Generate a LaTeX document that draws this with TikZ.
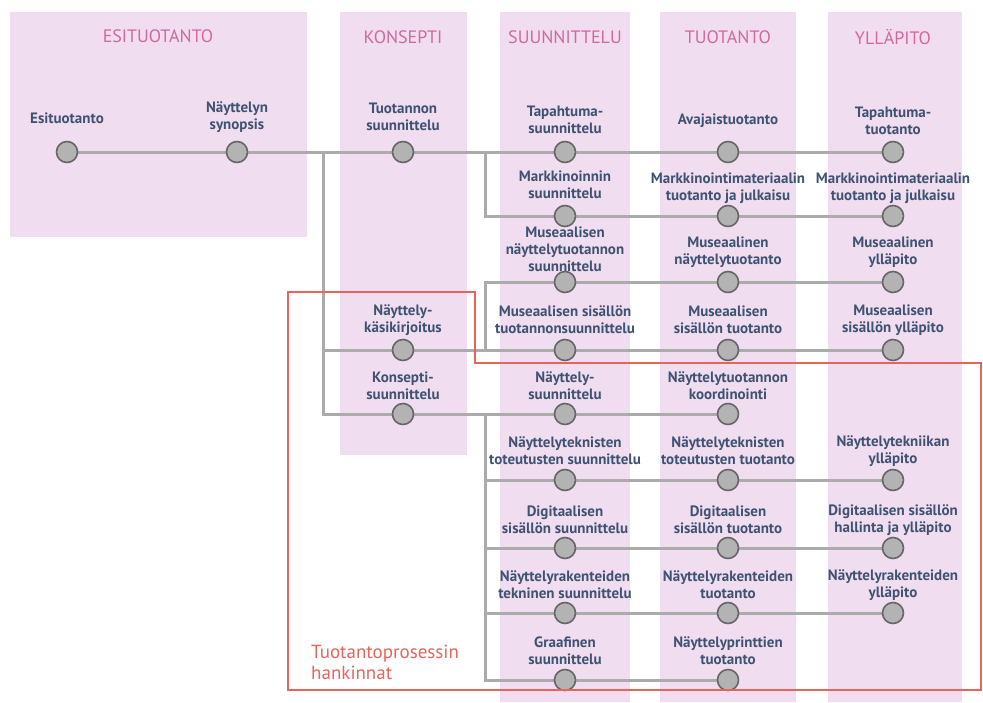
\documentclass[tikz,border=0pt]{standalone}
\usepackage{fontspec}
\setmainfont{PT Sans}
\pgfdeclarelayer{panels}
\pgfdeclarelayer{lines}
\pgfsetlayers{panels,lines,main}
\definecolor{panelc}{HTML}{F0DEF0}
\definecolor{hdrc}{HTML}{D2689F}
\definecolor{textc}{HTML}{3F5272}
\definecolor{dotfill}{HTML}{B3B3B3}
\definecolor{dotdraw}{HTML}{666666}
\definecolor{linec}{HTML}{ABABAB}
\definecolor{redc}{HTML}{E8645A}
\begin{document}
\begin{tikzpicture}[x=1pt,y=-1pt,
  dot/.style={circle,fill=dotfill,draw=dotdraw,line width=1.6pt,minimum size=21pt,inner sep=0pt},
  lbl/.style={font=\fontsize{15}{17}\selectfont\bfseries,text=textc,align=center,inner sep=0pt},
  hdr/.style={font=\fontsize{18}{20}\selectfont,text=hdrc,inner sep=0pt},
  conn/.style={draw=linec,line width=3pt,line join=miter},
  panel/.style={fill=panelc,draw=none},
  redbox/.style={draw=redc,line width=1.6pt,line join=miter},
  redlbl/.style={font=\fontsize{19}{21}\selectfont,text=redc,align=left,inner sep=0pt}]
\useasboundingbox (0,0) rectangle (983,702);
% panels
\begin{pgfonlayer}{panels}
\path[panel] (10,12) rectangle (307,237);
\path[panel] (340,12) rectangle (467,455);
\path[panel] (500,12) rectangle (630,702);
\path[panel] (660,12) rectangle (796,702);
\path[panel] (828,12) rectangle (962,702);
\end{pgfonlayer}
% headers
\node[hdr] (h1) at (158,36) {ESITUOTANTO};
\node[hdr] (h2) at (403,37) {KONSEPTI};
\node[hdr] (h3) at (565,37) {SUUNNITTELU};
\node[hdr] (h4) at (728,37) {TUOTANTO};
\node[hdr] (h5) at (893,37) {YLLÄPITO};
% row 1
\node[dot] (esi) at (67,152) {};
\node[lbl] (esi-l) at (67,118) {Esituotanto};
\node[dot] (syn) at (237,152) {};
\node[lbl] (syn-l) at (237,117) {Näyttelyn\\synopsis};
\node[dot] (tsu) at (403,152) {};
\node[lbl] (tsu-l) at (403,117) {Tuotannon\\suunnittelu};
\node[dot] (tap) at (565,152) {};
\node[lbl] (tap-l) at (565,120) {Tapahtuma-\\suunnittelu};
\node[dot] (ava) at (728,152) {};
\node[lbl] (ava-l) at (728,121) {Avajaistuotanto};
\node[dot] (tat) at (893,152) {};
\node[lbl] (tat-l) at (893,121) {Tapahtuma-\\tuotanto};
% row 2
\node[dot] (msu) at (565,216) {};
\node[lbl] (msu-l) at (565,185) {Markkinoinnin\\suunnittelu};
\node[dot] (mmt) at (728,216) {};
\node[lbl] (mmt-l) at (728,188) {Markkinointimateriaalin\\tuotanto ja julkaisu};
\node[dot] (mmy) at (893,216) {};
\node[lbl] (mmy-l) at (893,188) {Markkinointimateriaalin\\tuotanto ja julkaisu};
% row 3
\node[dot] (mns) at (565,282) {};
\node[lbl] (mns-l) at (565,249) {Museaalisen\\näyttelytuotannon\\suunnittelu};
\node[dot] (mnt) at (728,282) {};
\node[lbl] (mnt-l) at (728,252) {Museaalinen\\näyttelytuotanto};
\node[dot] (mny) at (893,282) {};
\node[lbl] (mny-l) at (893,252) {Museaalinen\\ylläpito};
% row 4
\node[dot] (kas) at (403,350) {};
\node[lbl] (kas-l) at (403,320) {Näyttely-\\käsikirjoitus};
\node[dot] (mss) at (565,350) {};
\node[lbl] (mss-l) at (565,320) {Museaalisen sisällön\\tuotannonsuunnittelu};
\node[dot] (mst) at (728,350) {};
\node[lbl] (mst-l) at (728,320) {Museaalisen\\sisällön tuotanto};
\node[dot] (msy) at (893,350) {};
\node[lbl] (msy-l) at (893,320) {Museaalisen\\sisällön ylläpito};
% row 5
\node[dot] (kon) at (403,414) {};
\node[lbl] (kon-l) at (403,386) {Konsepti-\\suunnittelu};
\node[dot] (nsu) at (565,414) {};
\node[lbl] (nsu-l) at (565,386) {Näyttely-\\suunnittelu};
\node[dot] (nko) at (728,414) {};
\node[lbl] (nko-l) at (728,386) {Näyttelytuotannon\\koordinointi};
% row 6
\node[dot] (nts) at (565,480) {};
\node[lbl] (nts-l) at (565,451) {Näyttelyteknisten\\toteutusten suunnittelu};
\node[dot] (ntt) at (728,480) {};
\node[lbl] (ntt-l) at (728,451) {Näyttelyteknisten\\toteutusten tuotanto};
\node[dot] (nty) at (893,480) {};
\node[lbl] (nty-l) at (893,451) {Näyttelytekniikan\\ylläpito};
% row 7
\node[dot] (dss) at (565,548) {};
\node[lbl] (dss-l) at (565,520) {Digitaalisen\\sisällön suunnittelu};
\node[dot] (dst) at (728,548) {};
\node[lbl] (dst-l) at (728,520) {Digitaalisen\\sisällön tuotanto};
\node[dot] (dsy) at (893,548) {};
\node[lbl] (dsy-l) at (893,520) {Digitaalisen sisällön\\hallinta ja ylläpito};
% row 8
\node[dot] (nrs) at (565,613) {};
\node[lbl] (nrs-l) at (565,585) {Näyttelyrakenteiden\\tekninen suunnittelu};
\node[dot] (nrt) at (728,613) {};
\node[lbl] (nrt-l) at (728,585) {Näyttelyrakenteiden\\tuotanto};
\node[dot] (nry) at (893,613) {};
\node[lbl] (nry-l) at (893,585) {Näyttelyrakenteiden\\ylläpito};
% row 9
\node[dot] (gra) at (565,680) {};
\node[lbl] (gra-l) at (565,651) {Graafinen\\suunnittelu};
\node[dot] (npt) at (728,680) {};
\node[lbl] (npt-l) at (728,651) {Näyttelyprinttien\\tuotanto};
% junctions
\coordinate (j1) at (323,152);
\coordinate (j2) at (323,350);
\coordinate (j3) at (323,414);
\coordinate (b1) at (485,152);
\coordinate (b2) at (485,216);
\coordinate (b3) at (485,282);
\coordinate (b4) at (485,350);
\coordinate (b5) at (485,414);
\coordinate (b6) at (485,480);
\coordinate (b7) at (485,548);
\coordinate (b8) at (485,613);
\coordinate (b9) at (485,680);
% connectors
\begin{pgfonlayer}{lines}
\draw[conn] (esi) -- (syn) -- (tsu) -- (tap) -- (ava) -- (tat);
\draw[conn] (j1) -- (j3) -- (kon) -- (nsu) -- (nko);
\draw[conn] (j2) -- (kas) -- (mss) -- (mst) -- (msy);
\draw[conn] (b1) -- (b2) -- (msu) -- (mmt) -- (mmy);
\draw[conn] (b4) -- (b3) -- (mns) -- (mnt) -- (mny);
\draw[conn] (b5) -- (b9) -- (gra) -- (npt);
\draw[conn] (b6) -- (nts) -- (ntt) -- (nty);
\draw[conn] (b7) -- (dss) -- (dst) -- (dsy);
\draw[conn] (b8) -- (nrs) -- (nrt) -- (nry);
\end{pgfonlayer}
% red box
\draw[redbox] (288,292) -- (475,292) -- (475,363) -- (981,363) -- (981,690) -- (288,690) -- cycle;
\node[redlbl,anchor=west] (red-l) at (311,662) {Tuotantoprosessin\\hankinnat};
\end{tikzpicture}
\end{document}
